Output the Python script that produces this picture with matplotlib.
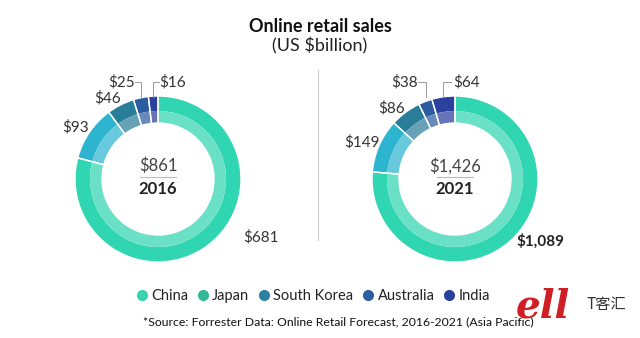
import matplotlib
matplotlib.use("Agg")
import matplotlib.pyplot as plt
from matplotlib.lines import Line2D
import matplotlib.colors as mcolors
import numpy as np

countries = ["China", "Japan", "South Korea", "Australia", "India"]
sales_2016 = [681, 93, 46, 25, 16]
sales_2021 = [1089, 149, 86, 38, 64]
total_2016 = "$861"
total_2021 = "$1,426"
years = ["2016", "2021"]
ring_colors = ["#30d5b1", "#2db4cf", "#2a7d98", "#2b5c9f", "#2b409f"]
legend_colors = ["#38d2b0", "#34b998", "#2e7fa0", "#2c5f9f", "#2a419c"]

plt.rcParams['font.family'] = ['Lato', 'DejaVu Sans']

W, H = 640, 338
fig = plt.figure(figsize=(W / 100, H / 100), dpi=100)
fig.patch.set_facecolor("white")


def fx(px):
    return px / W


def fy(py):
    return 1 - py / H


def lighten(c, f=0.3):
    r = np.array(mcolors.to_rgb(c))
    return tuple(r + (1 - r) * f)


R = 83


def donut(cx, cy, values):
    ax = fig.add_axes([fx(cx - R), fy(cy + R), 2 * R / W, 2 * R / H])
    ax.pie(values, radius=1.0, startangle=90, counterclock=False,
           colors=ring_colors,
           wedgeprops=dict(width=15 / R, linewidth=0))
    ax.pie(values, radius=68 / R, startangle=90, counterclock=False,
           colors=[lighten(c, 0.28) for c in ring_colors],
           wedgeprops=dict(width=12 / R, linewidth=0))
    ax.pie(values, radius=1.0, startangle=90, counterclock=False,
           colors=["none"] * len(values),
           wedgeprops=dict(width=27 / R, edgecolor="white", linewidth=1.0, facecolor="none"))
    ax.set_xlim(-1, 1)
    ax.set_ylim(-1, 1)
    ax.set_aspect("auto")
    ax.axis("off")
    return ax


donut(158, 179, sales_2016)
donut(455, 179, sales_2021)

# title
fig.text(fx(320), fy(27), "Online retail sales", ha="center", va="center",
         fontsize=13, fontweight="bold", color="#111111")
fig.text(fx(320), fy(46), "(US $billion)", ha="center", va="center",
         fontsize=13, color="#222222")

# divider
fig.add_artist(Line2D([fx(318), fx(318)], [fy(70), fy(240)], color="#cccccc", lw=0.8))

lab_col = "#333333"
fs = 11


def center(cx, total, year):
    fig.text(fx(cx), fy(166), total, ha="center", va="center", fontsize=12, color="#444444")
    fig.add_artist(Line2D([fx(cx - 18), fx(cx + 18)], [fy(177), fy(177)], color="#bbbbbb", lw=0.8))
    fig.text(fx(cx), fy(189), year, ha="center", va="center", fontsize=12,
             fontweight="bold", color="#222222")


center(158, total_2016, years[0])
center(455, total_2021, years[1])

# 2016 labels
v = sales_2016
fig.text(fx(261), fy(237), f"${v[0]}", ha="center", va="center", fontsize=fs, color=lab_col)
fig.text(fx(76), fy(127), f"${v[1]}", ha="center", va="center", fontsize=fs, color=lab_col)
fig.text(fx(108), fy(98), f"${v[2]}", ha="center", va="center", fontsize=fs, color=lab_col)
fig.text(fx(122), fy(82), f"${v[3]}", ha="center", va="center", fontsize=fs, color=lab_col)
fig.text(fx(173), fy(82), f"${v[4]}", ha="center", va="center", fontsize=fs, color=lab_col)
fig.add_artist(Line2D([fx(135), fx(141), fx(141)], [fy(82), fy(82), fy(97)], color="#999999", lw=0.7))
fig.add_artist(Line2D([fx(153), fx(153), fx(159)], [fy(97), fy(82), fy(82)], color="#999999", lw=0.7))

# 2021 labels
v = sales_2021
fig.text(fx(540), fy(241), f"${v[0]:,}", ha="center", va="center", fontsize=fs,
         fontweight="bold", color="#222222")
fig.text(fx(362), fy(142), f"${v[1]}", ha="center", va="center", fontsize=fs, color=lab_col)
fig.text(fx(392), fy(108), f"${v[2]}", ha="center", va="center", fontsize=fs, color=lab_col)
fig.text(fx(405), fy(82), f"${v[3]}", ha="center", va="center", fontsize=fs, color=lab_col)
fig.text(fx(467), fy(82), f"${v[4]}", ha="center", va="center", fontsize=fs, color=lab_col)
fig.add_artist(Line2D([fx(418), fx(426), fx(426)], [fy(82), fy(82), fy(97)], color="#999999", lw=0.7))
fig.add_artist(Line2D([fx(443), fx(443), fx(451)], [fy(97), fy(82), fy(82)], color="#999999", lw=0.7))

# legend
handles = [Line2D([0], [0], marker="o", linestyle="", markersize=7,
                  markerfacecolor=c, markeredgecolor=c) for c in legend_colors]
fig.legend(handles, countries, loc="center", bbox_to_anchor=(fx(313), fy(296)),
           ncol=5, frameon=False, fontsize=10.5, handletextpad=0.25,
           columnspacing=0.6, handlelength=0.8, labelcolor="#222222")

fig.text(fx(338), fy(322), "*Source: Forrester Data: Online Retail Forecast, 2016-2021 (Asia Pacific)",
         ha="center", va="center", fontsize=8.8, color="#111111")

# watermark
fig.text(fx(543), fy(307), "ell", ha="center", va="center", fontsize=28,
         fontstyle="italic", fontweight="bold", family="DejaVu Serif", color="#d01f24")
fig.text(fx(606), fy(305), "T客汇", ha="center", va="center", fontsize=11,
         family=["Noto Sans CJK SC", "DejaVu Sans"], color="#333333")

fig.savefig("out.png", dpi=100, facecolor="white")
